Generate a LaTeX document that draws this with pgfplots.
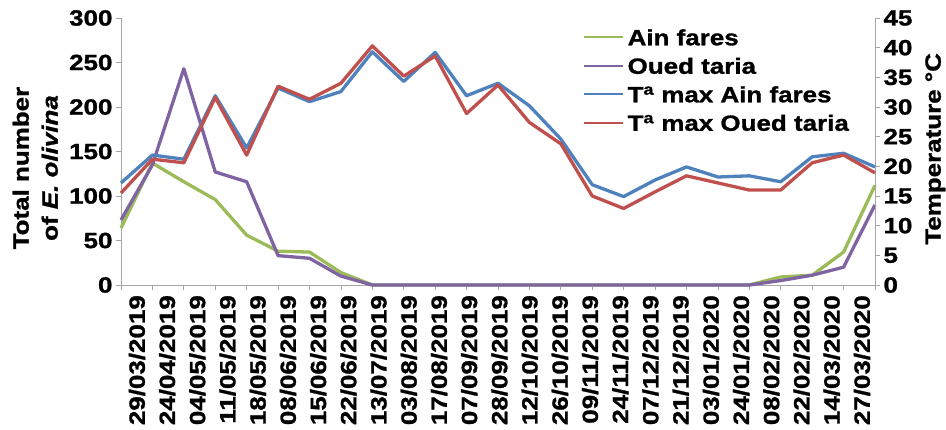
\documentclass[border=0pt]{standalone}
\usepackage{fontspec}
\setmainfont{Liberation Sans}[FakeStretch=1.18, BoldFeatures={FakeBold=1.2}, BoldItalicFeatures={FakeBold=1.2}]
\usepackage{pgfplots}
\pgfplotsset{compat=1.18}
\definecolor{cgreen}{HTML}{9BBB59}
\definecolor{cpurple}{HTML}{8064A2}
\definecolor{cblue}{HTML}{4F81BD}
\definecolor{cred}{HTML}{C0504D}
\definecolor{axgray}{HTML}{A6A6A6}
\newcommand{\cf}{\fontsize{22}{29}\selectfont\bfseries}
\begin{document}
\begin{tikzpicture}
\pgfplotsset{
  base/.style={scale only axis, width=754pt, height=267pt, at={(0,0)}, anchor=south west,
    clip=false, tick align=outside, major tick length=5pt,
    tick style={axgray, line width=0.8pt}, axis line style={axgray, line width=0.8pt},
    ticklabel style={font=\cf, text=black}, /pgf/number format/assume math mode=true},
  ser/.style={line width=3.3pt, line join=round, mark=none},
}
\begin{axis}[base, xmin=0, xmax=24, ymin=0, ymax=300, ytick={0,50,...,300},
  axis x line*=bottom, axis y line*=left, xtick={0,...,24}, xticklabels={},
  ylabel={Total number\\of \textit{E. olivina}},
  ylabel style={font=\cf, align=center, inner sep=0pt, at={(axis description cs:-0.0835,0.438)}, anchor=south}]
\addplot[ser, cgreen] coordinates {(0,64) (1,137) (2,116) (3,96) (4,56) (5,38) (6,37) (7,14) (8,0) (9,0) (10,0) (11,0) (12,0) (13,0) (14,0) (15,0) (16,0) (17,0) (18,0) (19,0) (20,0) (21,9) (22,11) (23,37) (24,112)};
\addplot[ser, cpurple] coordinates {(0,73) (1,135) (2,243) (3,127) (4,116) (5,33) (6,30) (7,10) (8,0) (9,0) (10,0) (11,0) (12,0) (13,0) (14,0) (15,0) (16,0) (17,0) (18,0) (19,0) (20,0) (21,5) (22,11) (23,20) (24,90)};
\end{axis}
\begin{axis}[base, xmin=0, xmax=24, ymin=0, ymax=45, ytick={0,5,...,45},
  axis y line*=right, axis x line=none,
  ylabel={Temperature °C},
  ylabel style={font=\cf, inner sep=0pt, at={(axis description cs:1.0665,0.51)}, anchor=north},
  legend image code/.code={\draw[#1, line width=2pt] (0pt,0pt) -- (39pt,0pt);},
  legend style={at={(rel axis cs:0.612,0.982)}, anchor=north west, draw=none, fill=none,
    font=\cf, inner sep=0pt, row sep=0pt,
    nodes={inner xsep=4pt, inner ysep=6.25pt, text height=16pt, text depth=0pt}},
  legend cell align=left]
\addlegendimage{cgreen}
\addlegendentry{Ain fares}
\addlegendimage{cpurple}
\addlegendentry{Oued taria}
\addplot[ser, cblue] coordinates {(0,17.2) (1,21.9) (2,21.2) (3,31.9) (4,23.1) (5,33.2) (6,30.9) (7,32.6) (8,39.3) (9,34.3) (10,39.2) (11,31.9) (12,34.0) (13,30.2) (14,24.6) (15,16.9) (16,14.9) (17,17.7) (18,19.9) (19,18.2) (20,18.4) (21,17.4) (22,21.6) (23,22.2) (24,19.9)};
\addlegendentry{T\textsuperscript{a} max Ain fares}
\addplot[ser, cred] coordinates {(0,15.5) (1,21.2) (2,20.6) (3,31.6) (4,21.9) (5,33.5) (6,31.3) (7,34.0) (8,40.3) (9,35.2) (10,38.6) (11,28.9) (12,33.7) (13,27.4) (14,23.8) (15,15.0) (16,12.9) (17,15.7) (18,18.4) (19,17.2) (20,16.0) (21,16.0) (22,20.6) (23,21.9) (24,18.9)};
\addlegendentry{T\textsuperscript{a} max Oued taria}
\end{axis}
\begin{axis}[base, xmin=-0.530, xmax=24.430, ymin=0, ymax=1,
  axis y line=none, axis x line*=bottom, x axis line style={draw=none},
  xtick={0,...,24}, major tick length=0pt, xtick style={draw=none},
  xticklabels={29/03/2019,24/04/2019,04/05/2019,11/05/2019,18/05/2019,08/06/2019,15/06/2019,22/06/2019,13/07/2019,03/08/2019,17/08/2019,07/09/2019,28/09/2019,12/10/2019,26/10/2019,09/11/2019,24/11/2019,07/12/2019,21/12/2019,03/01/2020,24/01/2020,08/02/2020,22/02/2020,14/03/2020,27/03/2020},
  xticklabel style={rotate=90, anchor=east, inner sep=0pt}, xticklabel shift=10pt]
\addplot[draw=none] coordinates {(0,0)};
\end{axis}
\pgfresetboundingbox
\path (-121pt,-145pt) rectangle (825pt,285pt);
\end{tikzpicture}
\end{document}
